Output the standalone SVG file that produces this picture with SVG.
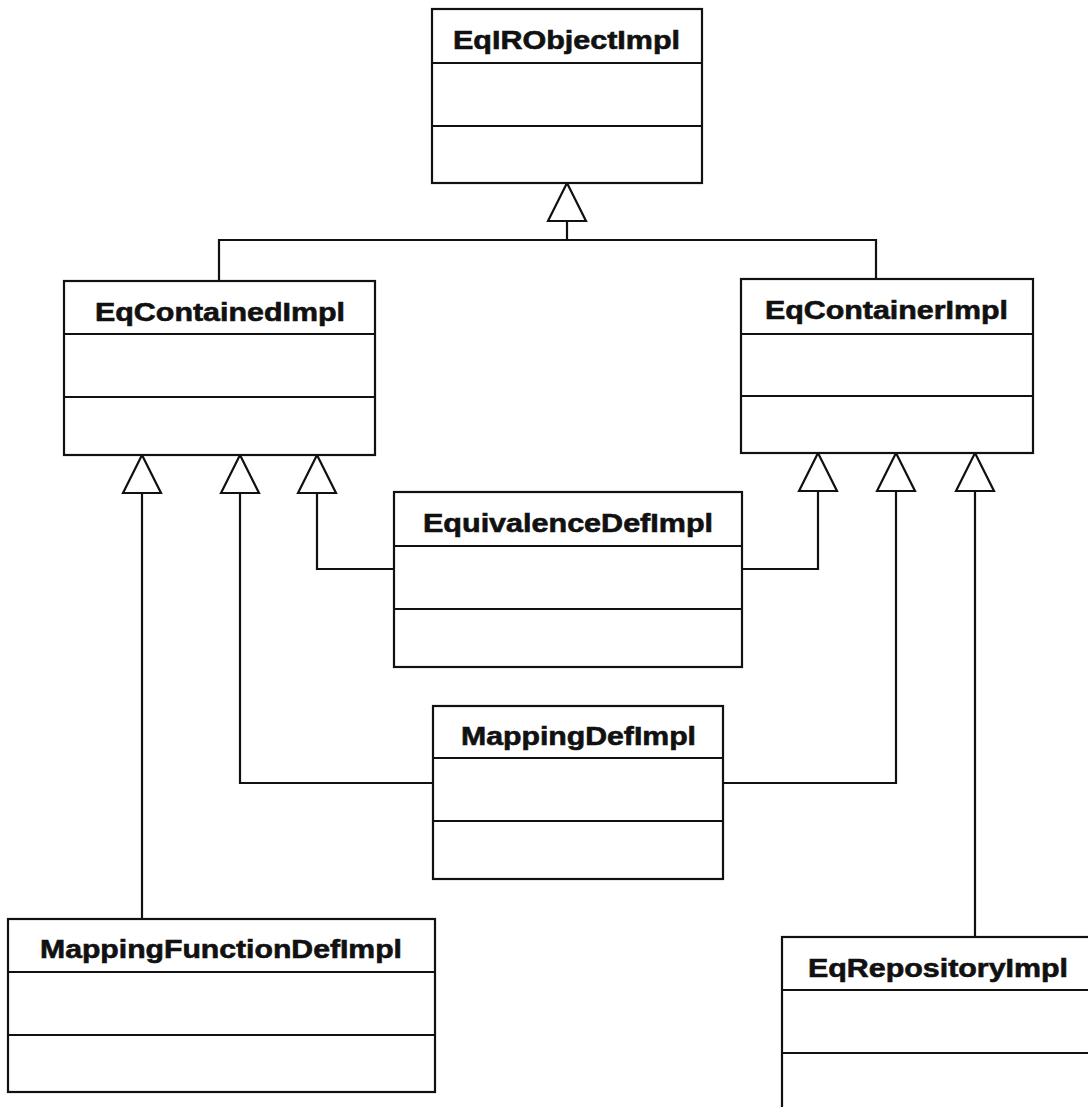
<svg xmlns="http://www.w3.org/2000/svg" width="1088" height="1107" viewBox="0 0 1088 1107">
<style>
.box{fill:#fff;stroke:#111;stroke-width:2.2}
.div{stroke:#111;stroke-width:2.2}
.t{font-family:"Liberation Sans",Arial,sans-serif;font-weight:bold;font-size:25px;fill:#111;stroke:#111;stroke-width:0.6}
.c{fill:none;stroke:#111;stroke-width:2.2}
</style>
<defs>
<marker id="gen" markerUnits="userSpaceOnUse" viewBox="-2 -2 42 42" markerWidth="42" markerHeight="42" refX="38" refY="19" orient="auto">
<path d="M0,0 L38,19 L0,38 Z" fill="#fff" stroke="#111" stroke-width="2.2" stroke-linejoin="miter"/>
</marker>
</defs>
<rect width="1088" height="1107" fill="#fff"/>
<g id="connectors">
<path class="c" d="M219,281 V240 H876 V279"/>
<path class="c" d="M567,240 V183" marker-end="url(#gen)"/>
<path class="c" d="M142,919 V455" marker-end="url(#gen)"/>
<path class="c" d="M433,783 H240 V455" marker-end="url(#gen)"/>
<path class="c" d="M394,569 H317 V455" marker-end="url(#gen)"/>
<path class="c" d="M742,569 H818 V453" marker-end="url(#gen)"/>
<path class="c" d="M723,783 H896 V453" marker-end="url(#gen)"/>
<path class="c" d="M975,937 V453" marker-end="url(#gen)"/>
</g>
<g id="EqIRObjectImpl">
<rect class="box" x="432" y="9" width="270" height="174"/>
<line class="div" x1="432" y1="63" x2="702" y2="63"/>
<line class="div" x1="432" y1="126" x2="702" y2="126"/>
<text class="t" x="453" y="49" textLength="227" lengthAdjust="spacingAndGlyphs">EqIRObjectImpl</text>
</g>
<g id="EqContainedImpl">
<rect class="box" x="64" y="281" width="311" height="174"/>
<line class="div" x1="64" y1="334" x2="375" y2="334"/>
<line class="div" x1="64" y1="397" x2="375" y2="397"/>
<text class="t" x="95" y="321" textLength="250" lengthAdjust="spacingAndGlyphs">EqContainedImpl</text>
</g>
<g id="EqContainerImpl">
<rect class="box" x="741" y="279" width="292" height="174"/>
<line class="div" x1="741" y1="334" x2="1033" y2="334"/>
<line class="div" x1="741" y1="396" x2="1033" y2="396"/>
<text class="t" x="765" y="319" textLength="243" lengthAdjust="spacingAndGlyphs">EqContainerImpl</text>
</g>
<g id="EquivalenceDefImpl">
<rect class="box" x="394" y="492" width="348" height="175"/>
<line class="div" x1="394" y1="546" x2="742" y2="546"/>
<line class="div" x1="394" y1="609" x2="742" y2="609"/>
<text class="t" x="423" y="532" textLength="290" lengthAdjust="spacingAndGlyphs">EquivalenceDefImpl</text>
</g>
<g id="MappingDefImpl">
<rect class="box" x="433" y="706" width="290" height="173"/>
<line class="div" x1="433" y1="758" x2="723" y2="758"/>
<line class="div" x1="433" y1="821" x2="723" y2="821"/>
<text class="t" x="461" y="745" textLength="235" lengthAdjust="spacingAndGlyphs">MappingDefImpl</text>
</g>
<g id="MappingFunctionDefImpl">
<rect class="box" x="8" y="919" width="427" height="173"/>
<line class="div" x1="8" y1="972" x2="435" y2="972"/>
<line class="div" x1="8" y1="1035" x2="435" y2="1035"/>
<text class="t" x="40" y="958" textLength="362" lengthAdjust="spacingAndGlyphs">MappingFunctionDefImpl</text>
</g>
<g id="EqRepositoryImpl">
<rect class="box" x="782" y="937" width="320" height="180"/>
<line class="div" x1="782" y1="990" x2="1102" y2="990"/>
<line class="div" x1="782" y1="1053" x2="1102" y2="1053"/>
<text class="t" x="808" y="977" textLength="260" lengthAdjust="spacingAndGlyphs">EqRepositoryImpl</text>
</g>
</svg>
